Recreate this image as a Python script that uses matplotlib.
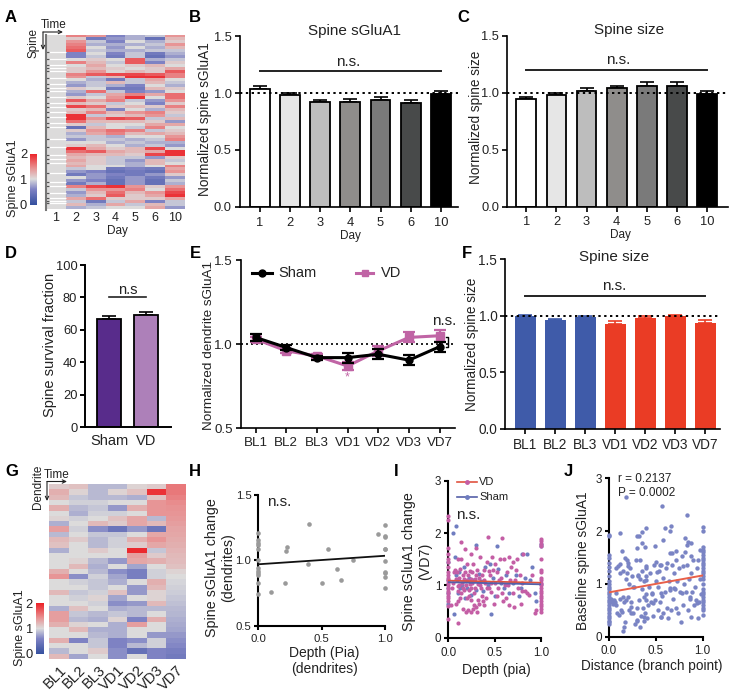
import matplotlib
matplotlib.use("Agg")
import matplotlib.pyplot as plt, numpy as np
from matplotlib.colors import LinearSegmentedColormap, Normalize
from matplotlib.cm import ScalarMappable
from matplotlib.transforms import ScaledTranslation

W, H = 732, 692
plt.rcParams['font.family'] = ['Liberation Sans', 'DejaVu Sans']
plt.rcParams['axes.linewidth'] = 1.2
TXT = '#222222'

days = ['1', '2', '3', '4', '5', '6', '10']
sessions = ['BL1', 'BL2', 'BL3', 'VD1', 'VD2', 'VD3', 'VD7']

# panel A, days 2..10 per spine row
heat_a = [
 [1.5,1.4,0.6,0.8,0.9,1.4],[1.1,0.5,0.7,0.8,0.4,1.2],[1.4,0.9,0.6,1.0,0.8,1.1],[1.5,0.8,0.8,0.8,0.9,1.4],
 [1.6,1.0,0.7,1.0,0.8,1.2],[1.7,0.9,0.8,0.8,0.9,0.9],[0.6,1.0,0.6,0.9,0.5,0.8],[0.6,0.9,0.5,0.9,0.4,0.7],
 [1.0,1.1,1.0,1.7,0.8,0.9],[1.5,1.2,0.9,1.7,0.6,1.1],[1.0,1.3,1.0,1.1,1.2,1.0],[1.1,1.2,1.1,1.0,1.1,1.3],
 [1.1,1.4,1.05,1.2,1.1,1.7],[1.5,1.7,1.8,1.8,1.7,1.5],[1.4,0.9,1.2,1.9,1.9,1.5],[1.0,0.8,0.5,0.9,1.3,1.0],
 [0.8,0.9,1.2,0.9,1.2,0.9],[0.7,0.9,0.8,0.6,1.0,0.8],[1.1,1.0,0.5,0.5,1.2,1.1],[0.8,1.6,0.9,0.6,0.7,1.0],
 [0.7,0.9,1.3,1.5,1.3,1.6],[1.1,1.0,1.4,1.9,1.0,1.6],[1.7,1.3,1.5,0.9,0.7,1.4],[1.2,1.1,0.9,1.0,0.6,1.1],
 [1.8,1.6,1.1,1.2,1.1,1.5],[1.1,1.2,0.6,1.0,0.8,1.2],[1.2,1.5,1.2,1.4,1.5,1.1],[1.9,0.9,1.1,1.2,1.4,0.9],
 [1.9,1.4,1.8,1.7,0.9,1.2],[1.6,1.2,1.2,1.2,1.1,0.7],[1.1,0.9,1.0,1.0,1.3,1.3],[0.4,1.2,1.0,0.9,1.5,1.0],
 [1.1,1.4,1.6,1.5,0.9,1.1],[0.8,1.3,1.5,1.2,1.3,1.2],[0.9,0.9,0.8,1.0,1.0,1.4],[0.7,0.9,0.9,0.8,0.9,1.5],
 [1.0,1.0,0.8,0.9,0.8,0.8],[1.1,1.2,1.0,0.8,0.9,0.7],[1.9,1.3,1.1,1.2,1.8,1.0],[1.6,1.7,1.3,1.2,1.3,1.9],
 [1.3,1.2,1.2,1.1,1.8,1.9],[1.2,1.1,0.9,0.9,0.7,1.1],[1.3,1.1,0.9,0.7,1.2,0.9],[1.2,1.1,0.9,0.8,1.2,1.0],
 [1.3,1.0,1.0,0.8,1.0,1.5],[0.9,1.0,0.5,0.6,0.5,1.3],[0.7,0.6,0.4,0.5,0.4,1.4],[0.5,0.7,0.6,0.5,0.7,1.1],
 [1.0,0.7,0.5,0.7,0.5,0.7],[0.7,0.6,0.4,0.7,0.4,0.9],[0.5,0.8,0.4,0.7,0.4,0.8],[1.5,1.8,1.9,1.4,1.1,1.4],
 [0.9,1.4,1.4,1.5,1.0,1.6],[0.7,1.2,1.6,1.2,1.4,1.8],[0.8,1.1,1.7,1.1,1.3,1.9],[1.3,1.6,1.1,1.1,1.1,1.3],
 [0.9,0.5,0.9,1.3,0.6,0.9],[1.2,0.8,1.3,0.9,1.2,0.9],[0.8,0.9,1.0,1.0,1.3,0.7]]
gap_rows = [5.8,8.1,10.1,11.3,12.2,14.4,16.7,17.8,19.1,20.8,23,24.4,26.1,27.8,29.7,31.1,35,38,40.6,41.9,43.3,46.7,49.8,51.1,53.3,55,56.1,56.9]

sglua = [1.04,.985,.925,.92,.94,.91,.995]
sglua_err = [.02,.015,.015,.03,.03,.03,.025]
size_c = [.945,.98,1.02,1.04,1.065,1.065,.99]
size_c_err = [.02,.02,.02,.025,.035,.03,.025]
greys_b = ['white','#e6e6e6','#bdbdbd','#8f8d8b','#7a7a7a','#484a4a','black']

surv = [66.7,69.3]
surv_err = [2,2]

sham = [1.04,.98,.92,.92,.94,.905,.985]
sham_err = [.02,.012,.012,.03,.03,.03,.03]
vd = [1.03,.96,.93,.87,.96,1.04,1.05]
vd_err = [.015,.012,.012,.025,.03,.03,.035]

size_f = [1.0,.965,.99,.93,.98,.995,.94]
size_f_err = [.005,.005,.005,.02,.02,.015,.025]
cols_f = ['#3f5ba9']*3 + ['#ea3c25']*4

heat_g = [
 [1.1,1.15,.85,.85,1.05,1.1,1.55],[1.25,1.05,.85,1.05,1.15,1.9,1.55],[1.2,.9,.85,.85,.8,1.15,1.5],
 [1.0,.95,.95,1.0,1.0,1.4,1.45],[1.25,.85,.9,.7,1.25,1.4,1.42],[1.0,.8,.95,.95,1.0,1.4,1.4],
 [1.05,.95,1.0,1.15,1.3,.85,1.38],[.8,1.0,1.2,1.1,1.3,1.2,1.35],[1.35,.95,.65,.45,.7,.45,1.32],
 [.85,1.0,.9,.9,1.0,1.3,1.3],[1.2,1.1,.85,.95,1.25,1.4,1.28],[1.15,1.0,.85,.95,1.1,1.3,1.25],
 [.8,1.0,1.1,1.0,1.95,.9,1.22],[1.0,1.0,1.0,1.0,1.35,1.1,1.2],[1.0,1.05,.85,.7,1.3,1.25,1.18],
 [1.0,1.2,.8,1.0,.75,1.0,1.15],[1.25,1.0,.85,.65,.55,.95,1.05],[1.4,.65,.95,.75,.55,.95,1.0],
 [1.0,.95,.9,.8,1.0,1.25,.97],[1.0,1.0,.9,1.0,.7,1.2,.95],[1.2,.9,.95,1.15,.7,1.05,.93],
 [1.0,.95,1.05,.75,1.0,1.05,.9],[1.0,1.0,.95,.65,.7,1.2,.88],[.8,1.15,1.0,.8,.85,.85,.85],
 [1.35,.9,.85,.9,.85,1.0,.83],[1.35,.85,.8,1.05,.6,1.25,.8],[1.25,1.05,1.0,.8,1.35,1.0,.78],
 [1.0,1.2,.8,.8,1.0,1.0,.75],[1.0,1.0,.85,.8,1.0,.7,.7],[1.25,.6,.9,.6,.65,.95,.65],
 [1.0,1.0,.9,.6,.85,.95,.62],[.85,1.0,1.1,.65,.4,.6,.55],[1.2,.75,1.0,.65,1.0,.6,.5]]

h_x = [0,0,0,0,0,0,0,0,0,0,0,0,.1,.21,.22,.23,.39,.4,.5,.55,.62,.65,.745,.945,1,1,1,1,1,1,1,1,1,1]
h_y = [1.21,1.155,1.135,1.117,1.087,1.0,.94,.92,.90,.885,.825,.74,.755,.826,1.074,1.105,.975,1.28,.826,1.087,.934,.847,1.0,1.2,1.273,1.19,1.18,1.09,1.084,.995,.913,.906,.872,.79]
h_line = [.97,1.035]

i_vd = [(0,2.33),(0,2.25),(0,1.72),(0,1.6),(0,1.5),(0,1.45),(0,1.35),(0,1.25),(0,1.2),(0,1.15),(0,1.1),(0,1.05),(0,1.0),(0,.95),(0,.9),(0,.85),(0,.8),(0,.75),(0,.7),(0,.6),(0,.35),
 (1,1.88),(1,1.85),(1,1.8),(1,1.75),(1,1.5),(1,1.3),(1,1.25),(1,1.15),(1,1.1),(1,1.05),(1,1.0),(1,.95),(1,.9),(1,.85),(1,.8),(1,.75),(1,.7),(1,.65),(1,.6),(1,.55),(1,.5),
 (.11,.28),(.03,.62),(.04,.95),(.05,1.05),(.07,1.3),(.08,.65),(.09,1.25),(.1,1.5),(.1,.98),(.11,.7),(.12,1.15),(.13,1.32),(.14,1.82),(.14,1.5),(.14,.85),(.15,1.05),(.16,.55),(.16,1.2),(.17,.92),(.18,1.7),(.18,1.25),(.19,.5),(.2,1.4),(.2,1.1),(.2,.75),(.21,.52),(.22,.8),(.23,1.27),(.23,1.02),(.24,1.6),(.24,.5),(.25,.95),(.26,1.25),(.27,1.4),(.28,.85),(.28,.62),(.29,1.12),(.3,.58),(.3,1.72),(.31,.5),(.31,1.3),(.32,1.02),(.32,.72),(.33,.65),(.33,1.15),(.34,1.55),(.35,.95),(.36,1.2),(.36,.8),(.38,1.3),(.38,.62),(.4,1.05),(.41,.75),(.42,1.45),(.43,1.93),(.44,.95),(.45,1.2),(.46,.88),(.47,1.55),(.48,1.3),(.49,.65),(.5,1.05),(.52,1.25),(.53,.8),(.54,.95),(.56,1.5),(.57,1.15),(.58,1.9),(.59,.7),(.6,1.5),(.61,1.0),(.63,1.25),(.65,.62),(.66,1.55),(.67,1.1),(.68,1.35),(.7,.85),(.7,1.45),(.71,.58),(.73,1.3),(.75,.95),(.77,1.2),(.78,.65),(.8,1.05),(.81,1.6),(.83,.9),(.85,.85),(.87,.82),(.9,1.2),(.93,.48),(.95,.52),
 (.06,1.25),(.08,1.12),(.1,.9),(.12,1.0),(.13,.75),(.16,.95),(.17,1.12),(.19,1.0),(.21,1.2),(.22,.92),(.24,1.12),(.25,.72),(.26,1.05),(.27,.55),(.29,.95),(.3,1.2),(.34,1.0),(.37,.7),(.39,1.1),(.42,.95),(.44,1.28),(.46,1.05),(.5,1.4),(.55,1.1),(.58,.85),(.62,.75),(.64,1.0),(.72,1.1),(.74,1.5),(.79,.9)]
i_sham = [(0,1.45),(0,1.1),(0,.95),(0,.85),(0,.65),(.05,2.0),(.08,2.13),(.06,.45),(.07,1.55),(.08,1.2),(.09,1.1),(.1,.85),(.12,1.25),(.13,.95),(.15,1.0),(.17,1.35),(.18,.75),(.2,.95),(.22,1.15),(.25,.82),(.27,1.1),(.3,1.78),(.3,.92),(.33,1.22),(.35,1.08),(.37,.9),(.4,1.35),(.43,1.0),(.45,1.4),(.46,.45),(.48,1.15),(.5,.8),(.52,1.75),(.54,1.32),(.57,1.05),(.6,.95),(.62,1.2),(.65,.85),(.7,1.05),(.73,1.2),(.76,.8),(.78,.95),(.8,1.6),(.83,1.15),(.85,1.6),(.88,1.1),(.9,1.35),(.93,.85),(.95,.7),(1,1.8),(1,1.75),(1,1.03)]
i_vd_line = [1.09,1.05]
i_sham_line = [1.06,1.02]

j_pts = [(0,1.92),(0,1.9),(0,1.55),(0,1.5),(0,1.4),(0,1.32),(0,1.25),(0,1.15),(0,1.05),(0,1.0),(0,.95),(0,.9),(0,.85),(0,.8),(0,.75),(0,.7),(0,.65),(0,.6),(0,.55),(0,.5),(0,.45),(0,.4),(0,.35),(0,.3),(0,.28),(0,.25),
 (1,2.08),(1,2.0),(1,1.7),(1,1.65),(1,1.6),(1,1.55),(1,1.5),(1,1.45),(1,1.4),(1,1.35),(1,1.3),(1,1.25),(1,1.2),(1,1.15),(1,1.1),(1,1.0),(1,.9),(1,.85),(1,.8),(1,.75),(1,.7),(1,.65),(1,.6),(1,.55),(1,.5),(1,.42),
 (.18,2.65),(.57,2.48),(.83,2.3),(.66,2.1),(.65,2.0),(.6,2.05),(.4,2.05),(.35,1.98),(.12,1.96),(.32,1.9),(.3,1.9),(.81,1.87),(.84,1.8),(.88,1.78),(.35,1.78),(.3,1.68),(.38,1.7),(.14,1.62),
 (.02,.72),(.03,.66),(.04,.62),(.05,.7),(.06,.65),(.07,.6),(.08,1.3),(.09,.45),(.1,1.34),(.11,.42),(.12,1.38),(.12,.72),(.13,.5),(.14,.46),(.15,1.25),(.15,.1),(.16,.18),(.16,.65),(.17,1.5),(.17,.28),(.18,.7),(.18,1.1),(.19,1.2),(.2,.75),(.2,1.4),(.21,1.0),(.21,.5),(.22,1.3),(.23,.45),(.24,.65),(.25,1.15),(.26,.45),(.27,.95),(.28,.25),(.29,1.45),(.3,.3),(.3,.55),(.31,1.15),(.32,.7),(.33,1.1),(.33,.18),(.34,.4),(.35,1.25),(.35,.9),(.36,.55),(.37,.3),(.37,1.05),(.38,.45),(.39,1.15),(.39,.7),(.4,1.3),(.4,.8),(.41,.35),(.42,.6),(.43,.95),(.44,1.2),(.45,.65),(.46,.8),(.47,.4),(.48,1.35),(.49,.7),(.5,1.42),(.5,1.05),(.52,.5),(.52,.95),(.53,1.25),(.54,.65),(.55,1.35),(.56,.38),(.57,.78),(.58,1.12),(.58,.45),(.6,.85),(.61,1.3),(.62,.55),(.63,.35),(.64,1.05),(.65,.92),(.65,1.58),(.66,.5),(.67,1.35),(.68,.72),(.69,1.2),(.7,.9),(.71,1.62),(.72,.55),(.73,1.05),(.74,.45),(.75,1.3),(.76,.85),(.77,.28),(.78,1.52),(.79,.6),(.8,1.0),(.81,1.6),(.82,.85),(.83,1.35),(.84,.5),(.85,1.1),(.86,.72),(.87,.38),(.88,1.2),(.89,.85),(.9,1.45),(.91,.6),(.92,.95),(.93,.7),(.94,1.3),(.95,.35),(.96,.65),(.97,1.1),(.98,.8),
 (.2,1.33),(.31,1.17),(.4,1.08),(.51,1.23),(.62,1.39),(.72,1.46),(.79,1.33),(.88,1.52),(.95,1.46),(.08,.82),(.15,.76),(.24,.57),(.3,.32),(.37,.38),(.47,.63),(.56,.38),(.65,.89),(.69,.92),(.78,.82),(.86,.76),(.94,.63),(.26,.95),(.37,.76),(.46,.82),(.55,.82),(.12,1.2),(.19,1.46),(.33,1.46),(.4,1.33),(.54,1.36),(.58,1.84),(.49,1.71),(.67,1.58),(.83,1.74),(.97,1.65)]
j_line = [.84,1.16]

# colours
cmap = LinearSegmentedColormap.from_list('sg', [(0,'#35509f'),(.3,'#7f83c4'),(.5,'#dcdcdc'),(.72,'#e88f90'),(1,'#ec2026')])
norm = Normalize(0, 2)
pink = '#c064a5'


def axpx(l, t, r, b):
    return fig.add_axes([l/W, 1-b/H, (r-l)/W, (b-t)/H])


def style(ax, ticksize=9.3, pad=3, spine=1.2, ticklen=3.5):
    ax.spines[['top', 'right']].set_visible(False)
    ax.spines[['left', 'bottom']].set_linewidth(spine)
    ax.tick_params(direction='out', length=ticklen, width=spine, labelsize=ticksize, labelcolor=TXT, pad=2)
    ax.tick_params(axis='x', pad=pad)


def ylab(ax, s, x, y, size):
    ax.set_ylabel(s, fontsize=size, color=TXT, va='center')
    ax.yaxis.set_label_coords(x, y, transform=ov.transData)


def xlab(ax, s, x, y, size):
    ax.set_xlabel(s, fontsize=size, color=TXT, va='center')
    ax.xaxis.set_label_coords(x, y, transform=ov.transData)


def bars(ax, vals, errs, cols, edge='black', lw=1.3, width=.66):
    xs = np.arange(len(vals))
    ax.bar(xs, vals, width=width, color=cols, edgecolor=edge, linewidth=lw, zorder=2)
    for x, v, e, c in zip(xs, vals, errs, cols):
        ax.errorbar(x, v, yerr=[[0], [e]], fmt='none', ecolor=c if edge is None else 'black', elinewidth=1.2, capsize=5, capthick=1.2, zorder=1)


def colorbar(l, t, r, b):
    cax = axpx(l, t, r, b)
    cb = fig.colorbar(ScalarMappable(norm=norm, cmap=cmap), cax=cax)
    cb.set_ticks([0, 1, 2])
    cax.yaxis.set_ticks_position('left')
    cax.tick_params(length=0, labelsize=9.3, labelcolor=TXT, pad=2)
    cb.outline.set_visible(False)


fig = plt.figure(figsize=(W/100, H/100), dpi=100)

# annotation layer in pixel coordinates
ov = fig.add_axes([0, 0, 1, 1], zorder=20)
ov.set_xlim(0, W)
ov.set_ylim(H, 0)
ov.axis('off')
ov.patch.set_alpha(0)

# A
ax = axpx(46, 35, 185, 209.5)
first = np.ones((len(heat_a), 1))
ax.imshow(np.hstack([first, np.array(heat_a)]), cmap=cmap, norm=norm, aspect='auto', interpolation='nearest', extent=[0, 7, len(heat_a), 0])
ax.hlines(gap_rows, 0, 1, color='white', lw=.9)
ax.hlines(gap_rows, 0, .14, color='#555555', lw=.9)
ax.set_xticks(np.arange(7)+.5, days)
ax.set_yticks([])
ax.tick_params(length=0, labelsize=9, labelcolor=TXT, pad=2)
ax.spines[['top', 'right', 'bottom']].set_visible(False)
ax.spines['left'].set_color('#777777')
ax.spines['left'].set_linewidth(1.5)
colorbar(30, 153.5, 37.5, 204.5)

# B
ax = axpx(239.5, 36.5, 458, 206.7)
bars(ax, sglua, sglua_err, greys_b)
ax.axhline(1, color='black', ls=(0, (1.2, 1.8)), lw=1.4, zorder=3)
ax.plot([0, 6], [1.194, 1.194], color='#222222', lw=1.4)
ax.set_xlim(-.669, 6.566)
ax.set_ylim(0, 1.5)
ax.set_yticks([0, .5, 1, 1.5], ['0.0', '0.5', '1.0', '1.5'])
ax.set_xticks(range(7), days)
ylab(ax, 'Normalized spine sGluA1', 205, 119.5, 9.8)
style(ax, pad=4)

# C
ax = axpx(506.7, 36, 728, 206.7)
bars(ax, size_c, size_c_err, greys_b)
ax.axhline(1, color='black', ls=(0, (1.2, 1.8)), lw=1.4, zorder=3)
ax.plot([0, 6], [1.2, 1.2], color='#222222', lw=1.4)
ax.set_xlim(-.653, 6.7)
ax.set_ylim(0, 1.5)
ax.set_yticks([0, .5, 1, 1.5], ['0.0', '0.5', '1.0', '1.5'])
ax.set_xticks(range(7), days)
ylab(ax, 'Normalized spine size', 475.7, 117, 9.8)
style(ax, pad=3)

# D
ax = axpx(85, 265, 170.7, 427.3)
bars(ax, surv, surv_err, ['#582c8b', '#ad80b9'])
ax.plot([0, 1], [80.5, 80.5], color='#222222', lw=1.2)
ax.set_xlim(-.654, 1.68)
ax.set_ylim(0, 100)
ax.set_xticks([0, 1], ['Sham', 'VD'])
ax.set_yticks([0, 20, 40, 60, 80, 100])
ylab(ax, 'Spine survival fraction', 50, 344.5, 10.5)
style(ax, spine=1.4)
ax.tick_params(axis='x', length=0, labelsize=10.5, pad=5)

# E
ax = axpx(240.7, 260, 455, 428.3)
xs = np.arange(7)
ax.axhline(1, color='black', ls=(0, (1.2, 1.8)), lw=1.2, zorder=1)
ax.errorbar(xs, vd, yerr=vd_err, color=pink, marker='s', ms=5.5, lw=2.2, capsize=4, capthick=1.6, elinewidth=1.6, zorder=2)
ax.errorbar(xs, sham, yerr=sham_err, color='black', marker='o', ms=5, lw=2.2, capsize=4, capthick=1.6, elinewidth=1.6, zorder=3)
ax.set_xlim(-.486, 6.5)
ax.set_ylim(.5, 1.5)
ax.set_xticks(xs, sessions)
ax.set_yticks([.5, 1, 1.5], ['0.5', '1.0', '1.5'])
ylab(ax, 'Normalized dendrite sGluA1', 209, 345, 9.7)
style(ax, ticksize=9.6, pad=3)
ax.plot([6.2, 6.28, 6.28, 6.2], [1.04, 1.04, .985, .985], color='black', lw=1, clip_on=False)
ax.text(3, .805, '*', color=pink, ha='center', va='center', fontsize=9)

# F
ax = axpx(505, 259.3, 720, 428.7)
bars(ax, size_f, size_f_err, cols_f, edge=None, lw=0, width=.72)
ax.axhline(1, color='black', ls=(0, (1.2, 1.8)), lw=1.4, zorder=3)
ax.plot([0, 6], [1.175, 1.175], color='#222222', lw=1.4)
ax.set_xlim(-.677, 6.49)
ax.set_ylim(0, 1.5)
ax.set_yticks([0, .5, 1, 1.5], ['0.0', '0.5', '1.0', '1.5'])
ax.set_xticks(range(7), sessions)
ylab(ax, 'Normalized spine size', 471.7, 344, 9.8)
style(ax, ticksize=9.8, pad=3)

# G
ax = axpx(49.3, 484.3, 186, 659)
ax.imshow(np.array(heat_g), cmap=cmap, norm=norm, aspect='auto', interpolation='nearest')
ax.set_xticks(range(7), sessions, rotation=45, ha='right', rotation_mode='anchor')
for lbl in ax.get_xticklabels():
    lbl.set_transform(lbl.get_transform() + ScaledTranslation(8/100, 0, fig.dpi_scale_trans))
ax.set_yticks([])
ax.tick_params(length=0, labelsize=10.5, labelcolor=TXT, pad=3)
for s in ax.spines.values():
    s.set_visible(False)
colorbar(35.7, 603, 43.7, 654)

# H
ax = axpx(258.3, 495, 385, 625.7)
ax.scatter(h_x, h_y, s=11, color='#9a9a9a', clip_on=False, zorder=3, linewidths=0)
ax.plot([0, 1], h_line, color='#111111', lw=1.3, zorder=4)
ax.set_xlim(0, 1)
ax.set_ylim(.5, 1.5)
ax.set_xticks([0, .5, 1], ['0.0', '0.5', '1.0'])
ax.set_yticks([.5, 1, 1.5], ['0.5', '1.0', '1.5'])
xlab(ax, 'Depth (Pia)\n(dendrites)', 324, 661, 10)
ylab(ax, 'Spine sGluA1 change\n(dendrites)', 220.5, 568, 10.3)
style(ax, ticksize=8.2, pad=3, spine=1.5, ticklen=3)

# I
ax = axpx(448.3, 480.7, 541, 637.7)
ax.scatter(*np.array(i_sham).T, s=9, color='#6f7dc0', clip_on=False, zorder=3, linewidths=0)
ax.scatter(*np.array(i_vd).T, s=9, color='#c45ea5', clip_on=False, zorder=3, linewidths=0)
ax.plot([0, 1], i_vd_line, color='#e0533f', lw=1.3, zorder=4)
ax.plot([0, 1], i_sham_line, color='#5560a8', lw=1.3, zorder=5)
ax.set_xlim(0, 1)
ax.set_ylim(0, 3)
ax.set_xticks([0, .5, 1], ['0.0', '0.5', '1.0'])
ax.set_yticks([0, 1, 2, 3])
xlab(ax, 'Depth (pia)', 496, 670, 10)
ylab(ax, 'Spine sGluA1 change\n(VD7)', 417.5, 561.5, 10.3)
style(ax, ticksize=8.4, pad=4, spine=1.5, ticklen=3)

# J
ax = axpx(609, 478.3, 702.7, 636.7)
ax.scatter(*np.array(j_pts).T, s=10, color='#7a84c4', clip_on=False, zorder=3, linewidths=0)
ax.plot([0, 1], j_line, color='#e8604a', lw=1.4, zorder=4)
ax.set_xlim(0, 1)
ax.set_ylim(0, 3)
ax.set_xticks([0, .5, 1], ['0.0', '0.5', '1.0'])
ax.set_yticks([0, 1, 2, 3])
xlab(ax, 'Distance (branch point)', 652, 666, 9.8)
ylab(ax, 'Baseline spine sGluA1', 583, 561, 9.9)
style(ax, ticksize=8.4, pad=3, spine=1.5, ticklen=3)


def t(x, y, s, size=10.5, **kw):
    kw.setdefault('ha', 'center')
    kw.setdefault('va', 'center')
    kw.setdefault('color', TXT)
    ov.text(x, y, s, fontsize=size, **kw)


def arrow(x0, y0, x1, y1):
    ov.annotate('', xy=(x1, y1), xytext=(x0, y0), arrowprops=dict(arrowstyle='->,head_width=.12,head_length=.25', lw=.8, color='#222222', shrinkA=0, shrinkB=0))


def key(x0, x1, y, line, marker, ms, mcol, lw):
    ov.plot([x0, (x0+x1)/2, x1], [y]*3, color=line, lw=lw, marker=marker, ms=ms, mfc=mcol, mec=mcol, markevery=[1])


for lab, x, y in [('A', 11, 17), ('B', 195, 17), ('C', 463, 17), ('D', 11, 253), ('E', 195, 253), ('F', 467, 253), ('G', 12, 472), ('H', 195, 472), ('I', 396, 472), ('J', 568, 472)]:
    t(x, y, lab, size=12, fontweight='bold', color='black')

t(54, 25, 'Time', size=8.5)
t(34, 43, 'Spine', size=8.5, rotation=90)
arrow(43, 32, 63, 32)
arrow(43, 32, 43, 50)
t(13, 178, 'Spine sGluA1', size=9.1, rotation=90)
t(117, 231, 'Day', size=8.5)

t(354, 30.5, 'Spine sGluA1', size=11)
t(348, 61.5, 'n.s.', size=11)
t(350, 236, 'Day', size=8.5)
t(629, 30, 'Spine size', size=11)
t(618, 60, 'n.s.', size=11)
t(620, 235, 'Day', size=8.5)

t(128, 290, 'n.s', size=10.5)

t(444, 321, 'n.s.', size=11)
key(252, 272, 273, 'black', 'o', 5, 'black', 2.2)
t(278, 273, 'Sham', size=10.5, ha='left')
key(356, 373, 273, pink, 's', 5, pink, 2.2)
t(381, 273, 'VD', size=10.5, ha='left')

t(614, 257, 'Spine size', size=11)
t(614, 286, 'n.s.', size=11)

t(38, 487, 'Dendrite', size=8.5, rotation=90)
t(57, 475, 'Time', size=8.5)
arrow(47, 481.5, 67, 481.5)
arrow(47, 481.5, 47, 501)
t(20, 628, 'Spine sGluA1', size=9, rotation=90)

t(279, 502, 'n.s.', size=11)
t(468, 515, 'n.s.', size=11)

key(457, 477, 482, '#e0533f', 'o', 2.5, '#c45ea5', 1.2)
t(479, 482, 'VD', size=8, ha='left')
key(457, 477, 496.5, '#5560a8', 'o', 2.5, '#6f7dc0', 1.2)
t(479, 496.5, 'Sham', size=8, ha='left')

t(617.5, 479, 'r = 0.2137', size=8.5, ha='left')
t(617.5, 492.7, 'P = 0.0002', size=8.5, ha='left')

fig.savefig('out.png', dpi=100)
